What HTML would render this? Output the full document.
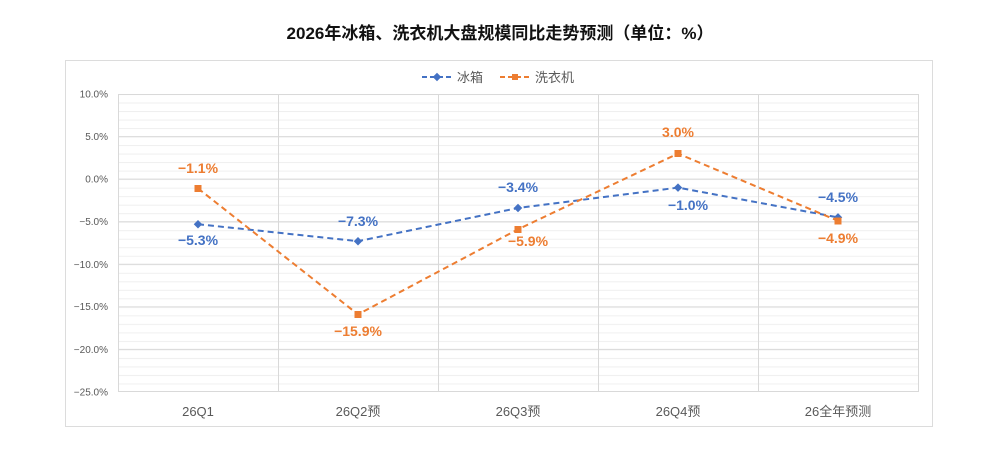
<!DOCTYPE html>
<html><head><meta charset="utf-8"><style>
body{margin:0;background:#fff;width:1000px;height:446px;overflow:hidden}
svg text{font-family:"Liberation Sans","Noto Sans CJK SC",sans-serif}
</style></head><body>
<svg width="1000" height="446" viewBox="0 0 1000 446" xmlns="http://www.w3.org/2000/svg">
<defs>
<pattern id="minor" x="0" y="94" width="10" height="8.514" patternUnits="userSpaceOnUse">
<line x1="0" x2="10" y1="0.5" y2="0.5" stroke="#efefef" stroke-width="1"/>
</pattern>
</defs>
<text x="500" y="39" text-anchor="middle" font-size="17" font-weight="bold" fill="#111">2026年冰箱、洗衣机大盘规模同比走势预测（单位：%）</text>
<rect x="65.5" y="60.5" width="867" height="366" fill="#fff" stroke="#dcdcdc"/>
<rect x="118" y="94" width="801" height="298" fill="url(#minor)"/>
<g stroke="#d9d9d9" stroke-width="1">
<line x1="118" x2="919" y1="94.5" y2="94.5"/>
<line x1="118" x2="919" y1="136.6" y2="136.6"/>
<line x1="118" x2="919" y1="179.1" y2="179.1"/>
<line x1="118" x2="919" y1="221.7" y2="221.7"/>
<line x1="118" x2="919" y1="264.3" y2="264.3"/>
<line x1="118" x2="919" y1="306.9" y2="306.9"/>
<line x1="118" x2="919" y1="349.4" y2="349.4"/>
<line x1="118" x2="919" y1="391.5" y2="391.5"/>
<line x1="118.5" x2="118.5" y1="94" y2="392"/>
<line x1="278.5" x2="278.5" y1="94" y2="392"/>
<line x1="438.5" x2="438.5" y1="94" y2="392"/>
<line x1="598.5" x2="598.5" y1="94" y2="392"/>
<line x1="758.5" x2="758.5" y1="94" y2="392"/>
<line x1="918.5" x2="918.5" y1="94" y2="392"/>
</g>
<g font-size="10" fill="#595959" text-anchor="end">
<text x="108" y="97.5">10.0%</text>
<text x="108" y="140">5.0%</text>
<text x="108" y="182.5">0.0%</text>
<text x="108" y="225">−5.0%</text>
<text x="108" y="268">−10.0%</text>
<text x="108" y="310">−15.0%</text>
<text x="108" y="353">−20.0%</text>
<text x="108" y="395.5">−25.0%</text>
</g>
<g font-size="13" fill="#595959" text-anchor="middle">
<text x="198" y="416">26Q1</text>
<text x="358" y="416">26Q2预</text>
<text x="518" y="416">26Q3预</text>
<text x="678" y="416">26Q4预</text>
<text x="838" y="416">26全年预测</text>
</g>
<line x1="422" y1="77" x2="452" y2="77" stroke="#4472c4" stroke-width="2" stroke-dasharray="5,3"/>
<rect x="434" y="74" width="6" height="6" fill="#4472c4" transform="rotate(45 437 77)"/>
<text x="457" y="82" font-size="13" fill="#595959">冰箱</text>
<line x1="500" y1="77" x2="530" y2="77" stroke="#ed7d31" stroke-width="2" stroke-dasharray="5,3"/>
<rect x="512" y="74" width="6" height="6" fill="#ed7d31"/>
<text x="535" y="82" font-size="13" fill="#595959">洗衣机</text>
<polyline points="198,224.2 358,241.2 518,208 678,187.6 838,217.4" fill="none" stroke="#4472c4" stroke-width="2" stroke-dasharray="6,4"/>
<polyline points="198,188.4 358,314.4 518,229.3 678,153.6 838,220.8" fill="none" stroke="#ed7d31" stroke-width="2" stroke-dasharray="6,4"/>
<g fill="#4472c4">
<rect x="195" y="221.2" width="6" height="6" transform="rotate(45 198 224.2)"/>
<rect x="355" y="238.2" width="6" height="6" transform="rotate(45 358 241.2)"/>
<rect x="515" y="205" width="6" height="6" transform="rotate(45 518 208)"/>
<rect x="675" y="184.6" width="6" height="6" transform="rotate(45 678 187.6)"/>
<rect x="835" y="214.4" width="6" height="6" transform="rotate(45 838 217.4)"/>
</g>
<g fill="#ed7d31">
<rect x="194.5" y="185" width="7" height="7"/>
<rect x="354.5" y="311" width="7" height="7"/>
<rect x="514.5" y="226" width="7" height="7"/>
<rect x="674.5" y="150" width="7" height="7"/>
<rect x="834.5" y="217.5" width="7" height="7"/>
</g>
<g font-size="14" font-weight="bold" text-anchor="middle">
<g fill="#4472c4">
<text x="198" y="245">−5.3%</text>
<text x="358" y="226">−7.3%</text>
<text x="518" y="192">−3.4%</text>
<text x="688" y="210">−1.0%</text>
<text x="838" y="202">−4.5%</text>
</g>
<g fill="#ed7d31">
<text x="198" y="173">−1.1%</text>
<text x="358" y="336">−15.9%</text>
<text x="528" y="246">−5.9%</text>
<text x="678" y="137">3.0%</text>
<text x="838" y="243">−4.9%</text>
</g>
</g>
</svg>
</body></html>
